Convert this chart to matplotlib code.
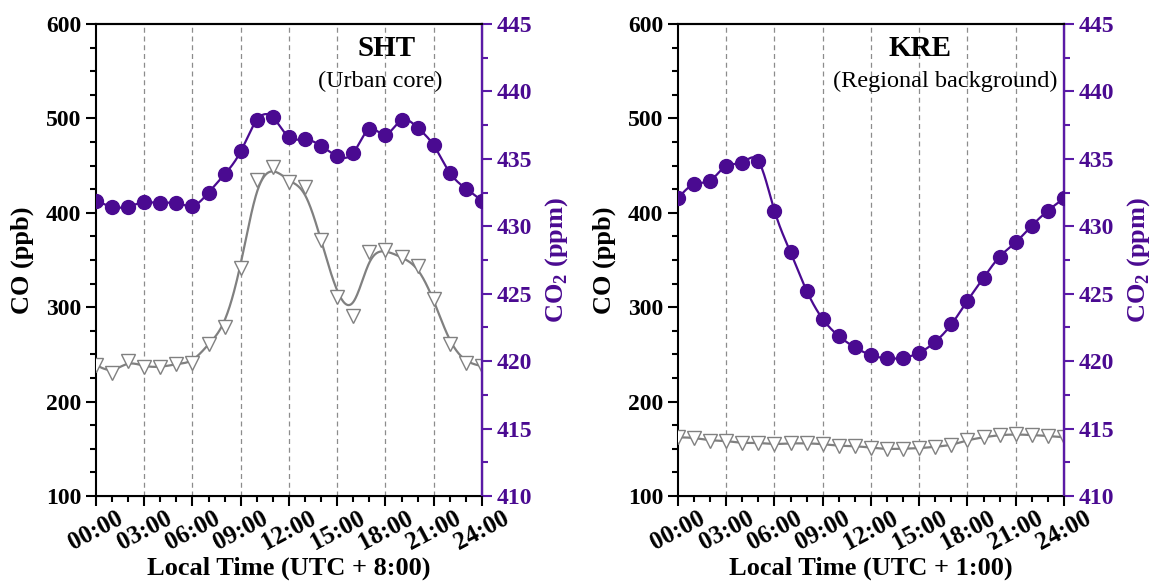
import matplotlib
matplotlib.use("Agg")
import matplotlib.pyplot as plt
import numpy as np
from matplotlib.ticker import MultipleLocator, FixedLocator

plt.rcParams["font.family"] = ["Liberation Serif", "DejaVu Serif"]
plt.rcParams["mathtext.fontset"] = "custom"
plt.rcParams["mathtext.rm"] = "Liberation Serif"
plt.rcParams["mathtext.bf"] = "Liberation Serif:bold"

hours = np.arange(25)
tick_labels = ["00:00", "03:00", "06:00", "09:00", "12:00", "15:00", "18:00", "21:00", "24:00"]

# SHT (urban core)
sht_co = [238.8, 230, 243.3, 237, 236.3, 239.8, 241.2, 261, 278.7, 341.2, 434.7, 448.8, 433,
          427, 371.2, 311.1, 291, 358.1, 360.6, 352.8, 344, 308.7, 261, 241.2, 237.7]
sht_co2 = [431.9, 431.45, 431.45, 431.8, 431.7, 431.75, 431.5, 432.5, 433.85, 435.55, 437.87,
           438.07, 436.6, 436.45, 435.95, 435.2, 435.45, 437.2, 436.8, 437.87, 437.3, 436.0,
           433.97, 432.8, 431.9]

# KRE (regional background)
kre_co = [162.2, 161.8, 158.6, 158.6, 155.8, 156.5, 154.7, 155.8, 155.8, 155.1, 153, 153, 151.2,
          149.5, 150.2, 150.5, 152.2, 153.7, 159.3, 162.2, 164.6, 165.3, 164.6, 163.6, 162.2]
kre_co2 = [432.07, 433.13, 433.38, 434.49, 434.71, 434.83, 431.15, 428.06, 425.22, 423.12,
           421.86, 421.02, 420.45, 420.2, 420.25, 420.62, 421.44, 422.73, 424.48, 426.18,
           427.74, 428.81, 430.04, 431.15, 432.07]

PURPLE = "#4a0a91"
SPINE_PURPLE = "#5a1aa6"
GREY = "#808080"


def bspline(x, y, n=30):
    """Uniform cubic B-spline using the points as control points (smoothed curve)."""
    px = np.r_[x[0], x[0], x, x[-1], x[-1]].astype(float)
    py = np.r_[y[0], y[0], y, y[-1], y[-1]].astype(float)
    t = np.linspace(0, 1, n)
    b0 = (1 - t) ** 3 / 6
    b1 = (3 * t ** 3 - 6 * t ** 2 + 4) / 6
    b2 = (-3 * t ** 3 + 3 * t ** 2 + 3 * t + 1) / 6
    b3 = t ** 3 / 6
    xs, ys = [], []
    for i in range(len(px) - 3):
        xs.append(b0 * px[i] + b1 * px[i + 1] + b2 * px[i + 2] + b3 * px[i + 3])
        ys.append(b0 * py[i] + b1 * py[i + 1] + b2 * py[i + 2] + b3 * py[i + 3])
    return np.concatenate(xs), np.concatenate(ys)


def cubic_spline(x, y, n=400):
    """Natural cubic spline through every point."""
    x = np.asarray(x, float)
    y = np.asarray(y, float)
    k = len(x)
    h = np.diff(x)
    A = np.zeros((k, k))
    r = np.zeros(k)
    A[0, 0] = A[-1, -1] = 1
    for i in range(1, k - 1):
        A[i, i - 1] = h[i - 1]
        A[i, i] = 2 * (h[i - 1] + h[i])
        A[i, i + 1] = h[i]
        r[i] = 3 * ((y[i + 1] - y[i]) / h[i] - (y[i] - y[i - 1]) / h[i - 1])
    c = np.linalg.solve(A, r)
    b = (y[1:] - y[:-1]) / h - h * (2 * c[:-1] + c[1:]) / 3
    d = (c[1:] - c[:-1]) / (3 * h)
    xf = np.linspace(x[0], x[-1], n)
    idx = np.clip(np.searchsorted(x, xf) - 1, 0, k - 2)
    dx = xf - x[idx]
    yf = y[idx] + b[idx] * dx + c[idx] * dx ** 2 + d[idx] * dx ** 3
    return xf, yf


def panel(ax, co, co2, tz):
    ax.set_xlim(0, 24)
    ax.set_ylim(100, 600)
    for h in range(3, 24, 3):
        ax.axvline(h, color="#8c8c8c", ls=(0, (4, 3)), lw=0.9, zorder=0)

    bx, by = bspline(hours, co)
    ax.plot(bx, by, color=GREY, lw=1.6, zorder=2)
    ax.plot(hours, co, ls="none", marker="v", ms=10.5, mfc="white", mec=GREY, mew=1.0, zorder=3)

    ax2 = ax.twinx()
    ax2.set_ylim(410, 445)
    sx, sy = cubic_spline(hours, co2)
    ax2.plot(sx, sy, color=PURPLE, lw=1.6, zorder=2)
    ax2.plot(hours, co2, ls="none", marker="o", ms=10, mfc=PURPLE, mec=PURPLE, zorder=3)

    ax.xaxis.set_major_locator(FixedLocator(range(0, 25, 3)))
    ax.xaxis.set_minor_locator(MultipleLocator(1))
    ax.set_xticklabels(tick_labels, rotation=28, ha="center", fontsize=18, fontweight="bold")
    ax.yaxis.set_major_locator(MultipleLocator(100))
    ax.yaxis.set_minor_locator(MultipleLocator(25))
    ax.tick_params(axis="both", which="major", direction="out", length=7, width=1.5)
    ax.tick_params(axis="y", labelsize=17)
    ax.tick_params(axis="both", which="minor", direction="out", length=4, width=1.5)
    ax.tick_params(axis="x", pad=1)
    for lab in ax.get_yticklabels():
        lab.set_fontweight("bold")
    for s in ["left", "bottom", "top"]:
        ax.spines[s].set_linewidth(1.5)

    ax2.yaxis.set_major_locator(MultipleLocator(5))
    ax2.yaxis.set_minor_locator(MultipleLocator(2.5))
    ax2.tick_params(axis="y", which="major", direction="out", length=7, width=1.5,
                    colors=SPINE_PURPLE, labelsize=17, labelcolor=PURPLE)
    ax2.tick_params(axis="y", which="minor", direction="out", length=4, width=1.5,
                    colors=SPINE_PURPLE)
    for lab in ax2.get_yticklabels():
        lab.set_fontweight("bold")
    ax2.spines["right"].set_color(SPINE_PURPLE)
    ax2.spines["right"].set_linewidth(1.7)
    ax2.spines["left"].set_visible(False)
    ax2.spines["top"].set_linewidth(1.5)

    ax.set_ylabel("CO (ppb)", fontsize=19, fontweight="bold", labelpad=9)
    ax2.set_ylabel(r"CO$_\mathbf{2}$ (ppm)", fontsize=19, fontweight="bold", color=PURPLE,
                   labelpad=8)
    ax.set_xlabel(f"Local Time (UTC + {tz})", fontsize=19, fontweight="bold", labelpad=1)
    return ax2


fig = plt.figure(figsize=(11.58, 5.86), dpi=100)
ax_l = fig.add_axes([0.0829, 0.1536, 0.3333, 0.8055])
ax_r = fig.add_axes([0.5855, 0.1536, 0.3333, 0.8055])

a2l = panel(ax_l, sht_co, sht_co2, "8:00")
a2r = panel(ax_r, kre_co, kre_co2, "1:00")

a2l.text(0.754, 0.948, "SHT", transform=ax_l.transAxes, ha="center", va="center",
         fontsize=21, fontweight="bold")
a2l.text(0.736, 0.879, "(Urban core)", transform=ax_l.transAxes, ha="center", va="center",
         fontsize=17.5)
a2r.text(0.627, 0.948, "KRE", transform=ax_r.transAxes, ha="center", va="center",
         fontsize=21, fontweight="bold")
a2r.text(0.692, 0.879, "(Regional background)", transform=ax_r.transAxes, ha="center",
         va="center", fontsize=17.5)

fig.savefig("out.png", dpi=100)
